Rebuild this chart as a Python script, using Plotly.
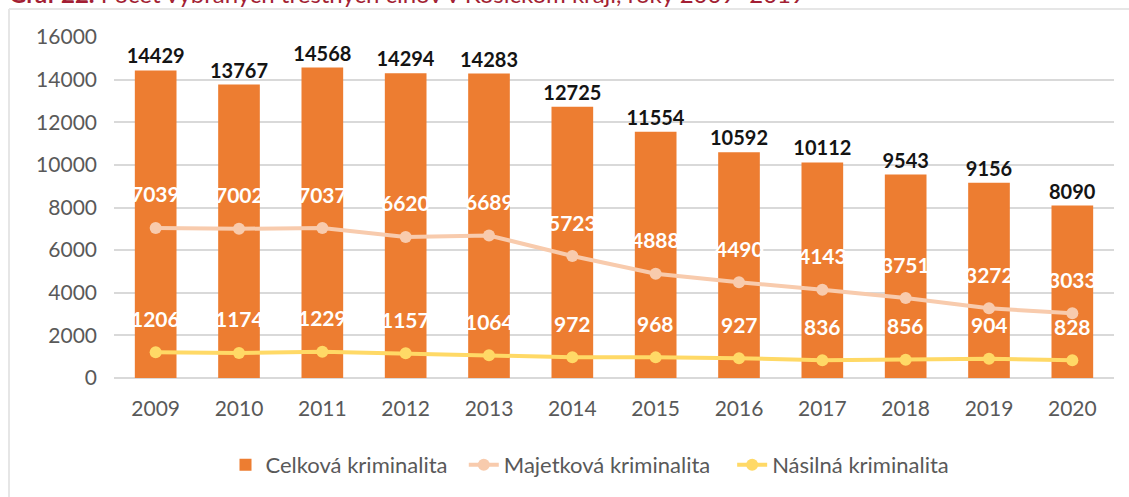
import plotly.graph_objects as go

# Crime counts in the Košice region, 2009–2020
years = ["2009", "2010", "2011", "2012", "2013", "2014",
         "2015", "2016", "2017", "2018", "2019", "2020"]
celkova = [14429, 13767, 14568, 14294, 14283, 12725,
           11554, 10592, 10112, 9543, 9156, 8090]
majetkova = [7039, 7002, 7037, 6620, 6689, 5723,
             4888, 4490, 4143, 3751, 3272, 3033]
nasilna = [1206, 1174, 1229, 1157, 1064, 972,
           968, 927, 836, 856, 904, 828]

y_ticks = [0, 2000, 4000, 6000, 8000, 10000, 12000, 14000, 16000]

FONT = "Lato"
ORANGE = "#ED7D31"
PEACH = "#F8CBAD"
YELLOW = "#FFD966"
GRID = "#D9D9D9"
TICK = "#595959"
NBSP = "\u00a0"

fig = go.Figure()

fig.add_trace(go.Bar(
    x=years, y=celkova, name="Celková kriminalita" + NBSP * 2,
    marker=dict(color=ORANGE, line=dict(width=0)),
    text=[f"<b>{v}</b>" for v in celkova],
    textposition="outside",
    constraintext="none",
    textfont=dict(family=FONT, size=20, color="#141414"),
    cliponaxis=False,
))

fig.add_trace(go.Scatter(
    x=years, y=majetkova, name="Majetková kriminalita" + NBSP * 3,
    mode="lines+markers",
    line=dict(color=PEACH, width=4),
    marker=dict(color=PEACH, size=12),
    cliponaxis=False,
))

fig.add_trace(go.Scatter(
    x=years, y=nasilna, name="Násilná kriminalita",
    mode="lines+markers",
    line=dict(color=YELLOW, width=4),
    marker=dict(color=YELLOW, size=12),
    cliponaxis=False,
))

# White value labels above the line points (x given as category index)
annotations = []
for series in (majetkova, nasilna):
    for i, v in enumerate(series):
        annotations.append(dict(
            x=i, y=v, xref="x", yref="y",
            text=f"<b>{v}</b>", showarrow=False,
            yshift=34,
            font=dict(family=FONT, size=21, color="white"),
        ))

# Caption partly cut by the top edge
annotations.append(dict(
    x=-0.106, y=1.0819, xref="paper", yref="paper",
    xanchor="left", yanchor="bottom",
    text="<b>Graf 22.</b> Počet vybraných trestných činov v Košickom kraji, roky 2009–2019",
    showarrow=False, borderpad=0,
    font=dict(family=FONT, size=24, color="#A31F34"),
))

shapes = [
    # frame lines (top and left)
    dict(type="line", xref="paper", yref="paper",
         x0=-0.105, x1=1.02, y0=1.0819, y1=1.0819,
         line=dict(color="#E6E6E6", width=2)),
    dict(type="line", xref="paper", yref="paper",
         x0=-0.105, x1=-0.105, y0=1.0819, y1=-0.40,
         line=dict(color="#E6E6E6", width=2)),
]

fig.update_layout(
    width=1129, height=497,
    margin=dict(l=114, r=15, t=37, b=118),
    paper_bgcolor="white", plot_bgcolor="white",
    bargap=0.5,
    font=dict(family=FONT, color=TICK),
    showlegend=True,
    legend=dict(
        orientation="h", x=0.476, y=-0.251,
        xanchor="center", yanchor="middle",
        font=dict(family=FONT, size=22, color=TICK),
        itemwidth=30, traceorder="normal",
    ),
    annotations=annotations,
    shapes=shapes,
)

fig.update_xaxes(
    type="category", range=[-0.5, len(years) - 0.5],
    showgrid=False, showline=False, zeroline=False,
    tickfont=dict(family=FONT, size=21, color=TICK), ticks="",
    ticklabelstandoff=16,
)
fig.update_yaxes(
    range=[0, 16000], tickvals=y_ticks, tickformat="d",
    showgrid=True, gridcolor=GRID, gridwidth=1.5,
    zeroline=True, zerolinecolor=GRID, zerolinewidth=1.5,
    showline=False, ticks="",
    tickfont=dict(family=FONT, size=21, color=TICK),
    ticklabelstandoff=16,
)

fig.write_html("out.html")
